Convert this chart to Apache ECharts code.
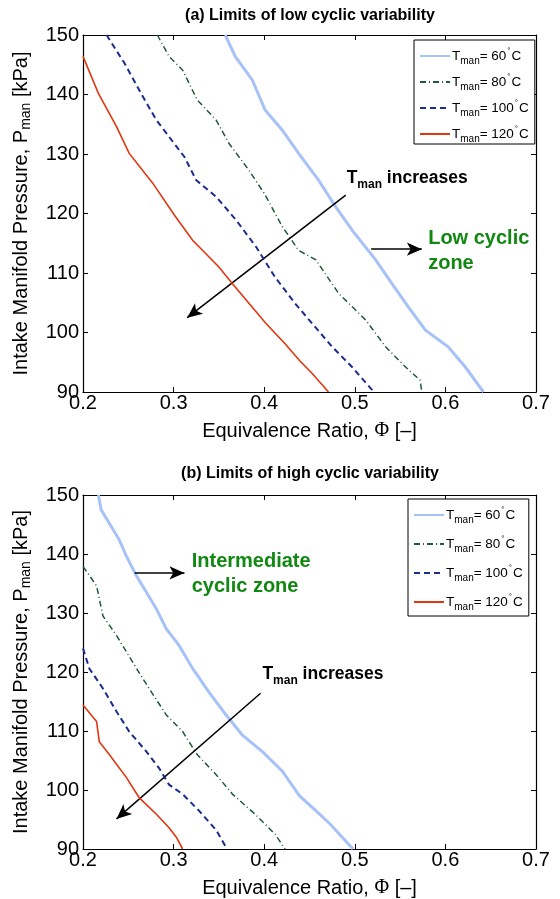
<!DOCTYPE html>
<html><head><meta charset="utf-8">
<script src="https://cdn.jsdelivr.net/npm/echarts@6/dist/echarts.min.js"></script>
<style>html,body{margin:0;padding:0;background:#fff}#c{width:560px;height:899px}</style>
</head><body><div id="c"></div>
<script>
const FONT = '"Liberation Sans", Arial, Helvetica, sans-serif';

// Manifold temperatures (°C), one boundary curve each
const temps = ['60', '80', '100', '120'];
const colors = ['#a6c2f8', '#1f5a3a', '#1b2c8e', '#e2360f'];
const widths = [3, 1.5, 2, 1.6];
const dashes = ['solid', [6, 3, 1, 3], [6, 4], 'solid'];

// (a) limits of low cyclic variability: equivalence ratio and pressure (kPa)
const lowPhi60 = [0.357, 0.368, 0.387, 0.401, 0.420, 0.438, 0.460, 0.479, 0.497, 0.523, 0.541, 0.559, 0.578, 0.603, 0.622, 0.642];
const lowP60   = [150, 146.4, 142.4, 137.4, 134.0, 130.1, 125.6, 121.1, 117.2, 112.2, 108.2, 104.3, 100.4, 97.6, 94.2, 90];
const lowPhi80 = [0.282, 0.295, 0.310, 0.326, 0.347, 0.361, 0.383, 0.400, 0.420, 0.438, 0.457, 0.482, 0.512, 0.534, 0.556, 0.572, 0.574];
const lowP80   = [150, 146.4, 144.1, 139.1, 135.7, 131.8, 127.3, 123.4, 117.8, 113.8, 112.2, 106.6, 102.1, 97.6, 94.2, 92.0, 90];
const lowPhi100 = [0.226, 0.246, 0.264, 0.281, 0.299, 0.312, 0.325, 0.347, 0.369, 0.391, 0.412, 0.434, 0.453, 0.475, 0.497, 0.521];
const lowP100   = [150, 145.2, 140.2, 135.7, 132.1, 129.5, 125.6, 122.8, 118.9, 114.4, 109.3, 104.9, 101.5, 97.6, 94.2, 90];
const lowPhi120 = [0.200, 0.217, 0.237, 0.251, 0.277, 0.301, 0.321, 0.350, 0.365, 0.402, 0.423, 0.439, 0.453, 0.471];
const lowP120   = [146.4, 140.2, 134.6, 130.1, 125.1, 119.7, 115.5, 111.0, 108.2, 101.5, 98.1, 95.3, 93.1, 90];

// (b) limits of high cyclic variability
const highPhi60 = [0.217, 0.220, 0.229, 0.240, 0.248, 0.259, 0.270, 0.281, 0.292, 0.306, 0.321, 0.339, 0.358, 0.376, 0.398, 0.420, 0.439, 0.457, 0.473, 0.498];
const highP60   = [150, 147.5, 145.2, 142.4, 139.6, 136.3, 133.5, 130.7, 127.3, 124.5, 120.6, 116.6, 112.7, 109.3, 106.5, 103.2, 99.0, 96.5, 94.2, 90];
const highPhi80 = [0.200, 0.215, 0.222, 0.237, 0.248, 0.259, 0.273, 0.292, 0.310, 0.326, 0.347, 0.365, 0.390, 0.412, 0.423];
const highP80   = [137.9, 134.6, 129.5, 126.2, 123.4, 120.6, 117.2, 112.7, 109.9, 106.0, 102.6, 99.3, 95.9, 92.5, 90];
const highPhi100 = [0.200, 0.207, 0.222, 0.237, 0.251, 0.270, 0.284, 0.295, 0.310, 0.328, 0.347, 0.359];
const highP100   = [124.0, 120.6, 117.2, 113.3, 109.9, 106.5, 103.7, 100.9, 99.3, 96.5, 93.2, 90];
const highPhi120 = [0.200, 0.215, 0.218, 0.229, 0.248, 0.262, 0.281, 0.295, 0.303, 0.310];
const highP120   = [114.4, 111.6, 108.2, 106.0, 102.1, 98.7, 95.9, 93.6, 92.0, 90];

// axis ranges and tick labels
const phiTicks = [0.2, 0.3, 0.4, 0.5, 0.6, 0.7];
const pTicks = [90, 100, 110, 120, 130, 140, 150];

const panelTitles = ['(a) Limits of low cyclic variability', '(b) Limits of high cyclic variability'];

// annotation arrows: [from, to] in (Φ, kPa)
const lowArrows = [[[0.490, 123.1], [0.315, 102.5]], [[0.518, 114.0], [0.574, 114.0]]];
const highArrows = [[[0.396, 116.4], [0.237, 95.1]], [[0.257, 136.8], [0.312, 136.8]]];
// annotation text anchors (left edge, vertical centre of first line)
const lowNotes = [{ at: [0.491, 125.9], kind: 'temp' }, { at: [0.581, 115.9], kind: 'zone', text: 'Low cyclic\nzone' }];
const highNotes = [{ at: [0.398, 119.6], kind: 'temp' }, { at: [0.320, 138.8], kind: 'zone', text: 'Intermediate\ncyclic zone' }];

const zip = (xs, ys) => xs.map((x, i) => [x, ys[i]]);
const panels = [
  [zip(lowPhi60, lowP60), zip(lowPhi80, lowP80), zip(lowPhi100, lowP100), zip(lowPhi120, lowP120)],
  [zip(highPhi60, highP60), zip(highPhi80, highP80), zip(highPhi100, highP100), zip(highPhi120, highP120)]
];
const arrows = [lowArrows, highArrows];
const notes = [lowNotes, highNotes];

const gridTops = [35, 495];
const grids = gridTops.map(t => ({ left: 83, right: 24, top: t, height: 357, show: false }));

const tickStyle = { show: true, inside: true, length: 5, lineStyle: { color: '#000', width: 1 } };
const lineStyleAxis = { show: true, lineStyle: { color: '#000', width: 1.2 } };

const xAxes = [], yAxes = [];
[0, 1].forEach(g => {
  xAxes.push({
    type: 'value', gridIndex: g, min: phiTicks[0], max: phiTicks[phiTicks.length - 1], interval: 0.1,
    position: 'bottom', axisLine: lineStyleAxis, axisTick: tickStyle, splitLine: { show: false },
    axisLabel: { color: '#000', fontSize: 20, fontFamily: FONT, margin: 1, formatter: v => v.toFixed(1) },
    name: 'Equivalence Ratio, {p|Φ} [–]', nameLocation: 'middle', nameGap: 29,
    nameTextStyle: { color: '#000', fontSize: 20, fontFamily: FONT,
      rich: { p: { fontSize: 20, fontFamily: '"Liberation Serif", "Times New Roman", serif', color: '#000' } } }
  });
  yAxes.push({
    type: 'value', gridIndex: g, min: pTicks[0], max: pTicks[pTicks.length - 1], interval: 10,
    position: 'left', axisLine: lineStyleAxis, axisTick: tickStyle, splitLine: { show: false },
    axisLabel: { color: '#000', fontSize: 20, fontFamily: FONT, margin: 4 },
    name: 'Intake Manifold Pressure, P{s|man} [kPa]', nameLocation: 'middle', nameRotate: 90, nameGap: 50,
    nameTextStyle: { color: '#000', fontSize: 20, fontFamily: FONT,
      rich: { s: { fontSize: 14, fontFamily: FONT, color: '#000', padding: [9, 0, 0, 0] } } }
  });
});
// mirrored box edges with inward ticks (top and right)
[0, 1].forEach(g => {
  xAxes.push({ type: 'value', gridIndex: g, min: 0.2, max: 0.7, interval: 0.1, position: 'top',
    axisLine: lineStyleAxis, axisTick: tickStyle, axisLabel: { show: false }, splitLine: { show: false } });
  yAxes.push({ type: 'value', gridIndex: g, min: 90, max: 150, interval: 10, position: 'right',
    axisLine: lineStyleAxis, axisTick: tickStyle, axisLabel: { show: false }, splitLine: { show: false } });
});

const seriesName = t => 'T' + t;
const series = [];
panels.forEach((curves, g) => {
  curves.forEach((data, k) => {
    const s = {
      type: 'line', name: seriesName(temps[k]), xAxisIndex: g, yAxisIndex: g, data,
      symbol: 'none', showSymbol: false, silent: true, clip: true, z: 3 + k,
      lineStyle: { color: colors[k], width: widths[k], type: dashes[k], cap: 'butt', join: 'miter' },
      itemStyle: { color: colors[k] }, emphasis: { disabled: true }
    };
    if (k === 3) {
      s.markLine = {
        silent: true, symbol: ['none', 'arrow'], symbolSize: [10, 15], animation: false,
        lineStyle: { color: '#000', width: 1.5, type: 'solid' }, label: { show: false },
        emphasis: { disabled: true },
        data: arrows[g].map(a => [{ coord: a[0] }, { coord: a[1] }])
      };
    }
    series.push(s);
  });
});

const legendRich = {
  t: { fontSize: 13.5, fontFamily: FONT, color: '#000' },
  s: { fontSize: 10, fontFamily: FONT, color: '#000', padding: [10, 0, 0, 0] },
  d: { fontSize: 8, fontFamily: FONT, color: '#000', padding: [0, 1, 10, 1] }
};
const legendFmt = name => '{t|T}{s|man}{t|= ' + name.slice(1) + '}{d|°}{t|C}';
const legends = [
  { left: 414, top: 40, gap: 7, pad: [7, 6, 0, 5] },
  { left: 408, top: 499, gap: 10, pad: [7, 6, 4, 5] }
].map(p => ({
  orient: 'vertical', left: p.left, top: p.top, data: temps.map(seriesName),
  itemWidth: 30, itemHeight: 14, itemGap: p.gap, padding: p.pad,
  borderColor: '#000', borderWidth: 1, backgroundColor: '#fff', selectedMode: false,
  itemStyle: { opacity: 0, borderWidth: 0 },
  formatter: legendFmt, textStyle: { rich: legendRich, padding: [0, 0, 0, -3] }
}));

const chart = echarts.init(document.getElementById('c'), null, { renderer: 'canvas' });
chart.setOption({
  animation: false,
  backgroundColor: '#fff',
  title: panelTitles.map((t, i) => ({
    text: t, left: 310, top: [8, 466][i], textAlign: 'center', padding: 0,
    textStyle: { fontSize: 16, fontWeight: 'bold', fontFamily: FONT, color: '#000' }
  })),
  grid: grids, xAxis: xAxes, yAxis: yAxes, legend: legends, series
});

// text annotations, anchored in data coordinates
const graphics = [];
notes.forEach((list, g) => {
  list.forEach(n => {
    const [px, py] = chart.convertToPixel({ gridIndex: g }, n.at);
    if (n.kind === 'temp') {
      graphics.push({
        type: 'text', x: px, y: py, silent: true,
        style: {
          text: '{t|T}{s|man}{t| increases}', verticalAlign: 'middle', align: 'left',
          rich: {
            t: { fontSize: 17.5, fontWeight: 'bold', fontFamily: FONT, fill: '#000' },
            s: { fontSize: 12, fontWeight: 'bold', fontFamily: FONT, fill: '#000', padding: [12, 0, 0, 0] }
          }
        }
      });
    } else {
      graphics.push({
        type: 'text', x: px, y: py - 12, silent: true,
        style: {
          text: n.text, fontSize: 20, fontWeight: 'bold', fontFamily: FONT, fill: '#118811',
          lineHeight: 25, align: 'left', verticalAlign: 'top'
        }
      });
    }
  });
});
chart.setOption({ graphic: graphics });
</script>
</body></html>
